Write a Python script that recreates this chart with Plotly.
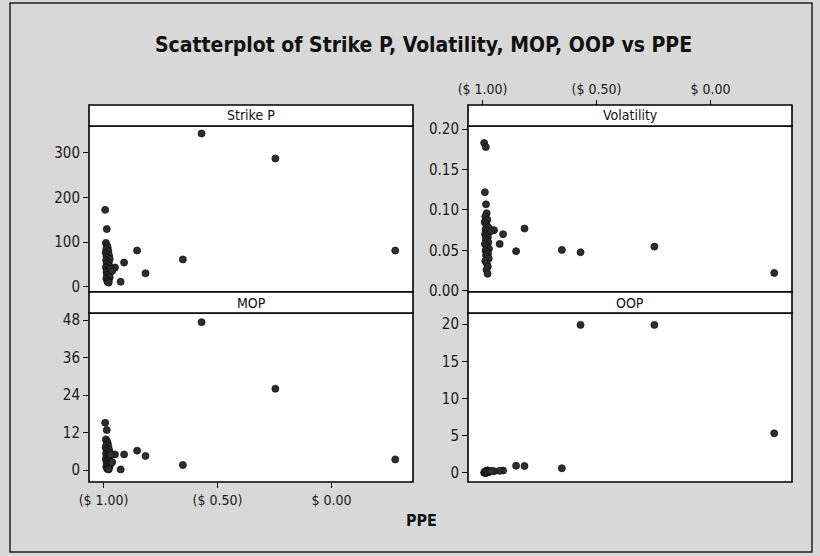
import plotly.graph_objects as go

# ---- data ----
ppe = [-0.570, -0.246, 0.280, -0.652, -0.853, -0.816, -0.910, -0.925, -0.950,
       -0.993, -0.986, -0.990, -0.985, -0.982, -0.988, -0.979, -0.991, -0.984, -0.976,
       -0.987, -0.980, -0.973, -0.989, -0.983, -0.977, -0.986, -0.981, -0.975, -0.990,
       -0.984, -0.978, -0.972, -0.987, -0.981, -0.976, -0.985, -0.979, -0.973, -0.988,
       -0.982, -0.977, -0.983, -0.978, -0.968, -0.962]
strike_p = [343, 287, 81, 61, 81, 30, 54, 11, 43,
            172, 129, 98, 92, 88, 84, 80, 76, 73, 70,
            67, 64, 62, 59, 56, 54, 51, 48, 46, 43,
            41, 38, 36, 33, 31, 28, 26, 23, 21, 18,
            16, 13, 11, 9, 40, 35]
volatility = [0.0476, 0.0546, 0.022, 0.0505, 0.049, 0.077, 0.070, 0.058, 0.075,
              0.183, 0.178, 0.122, 0.107, 0.096, 0.092, 0.088, 0.085, 0.082, 0.079,
              0.076, 0.074, 0.072, 0.070, 0.068, 0.066, 0.064, 0.062, 0.060, 0.058,
              0.056, 0.054, 0.052, 0.050, 0.048, 0.046, 0.044, 0.042, 0.040, 0.037,
              0.034, 0.030, 0.026, 0.021, 0.076, 0.074]
mop = [47.3, 26.0, 3.4, 1.6, 6.2, 4.5, 5.0, 0.2, 5.0,
       15.1, 12.8, 9.8, 9.2, 8.6, 8.0, 7.6, 7.2, 6.8, 6.5,
       6.1, 5.8, 5.5, 5.2, 4.9, 4.6, 4.3, 4.0, 3.8, 3.5,
       3.2, 3.0, 2.8, 2.5, 2.3, 2.0, 1.8, 1.5, 1.3, 1.0,
       0.8, 0.5, 0.3, 0.2, 5.0, 2.5]
oop = [19.9, 19.9, 5.3, 0.6, 0.94, 0.9, 0.3, 0.25, 0.2,
       0.0, 0.05, 0.1, 0.0, 0.15, 0.05, 0.2, 0.1, 0.0, 0.25,
       0.1, 0.05, 0.2, 0.0, 0.15, 0.3, 0.1, 0.2, 0.05, 0.0,
       0.25, 0.1, 0.15, 0.0, 0.2, 0.1, 0.05, 0.3, 0.1, 0.0,
       0.2, 0.1, 0.05, 0.15, 0.2, 0.25]

x_tickvals = [-1.0, -0.5, 0.0]
x_ticktext = ["($ 1.00)", "($ 0.50)", "$ 0.00"]
panel_titles = ["Strike P", "Volatility", "MOP", "OOP"]
title_text = "Scatterplot of Strike P, Volatility, MOP, OOP vs PPE"
x_title = "PPE"

W, H = 820, 556
def py(p):  # pixel y -> paper y
    return 1 - p / H
def px(p):
    return p / W

LX = [px(89), px(413)]
RX = [px(468), px(792)]
TOPY = [py(292), py(126)]
BOTY = [py(482), py(313)]
XR = [-1.064, 0.358]

FONT = "DejaVu Sans Condensed"
marker = dict(color="#2e2e2e", size=7, line=dict(color="#111", width=0.8))

fig = go.Figure()
series = [strike_p, volatility, mop, oop]
for i, ys in enumerate(series):
    sfx = "" if i == 0 else str(i + 1)
    fig.add_trace(go.Scatter(x=ppe, y=ys, mode="markers", marker=marker,
                             xaxis="x" + sfx, yaxis="y" + sfx, showlegend=False,
                             hoverinfo="skip"))

common_x = dict(range=XR, showgrid=False, zeroline=False, showline=False,
                tickvals=x_tickvals, ticktext=x_ticktext,
                tickfont=dict(family=FONT, size=14, color="#1a1a1a"))
common_y = dict(showgrid=False, zeroline=False, showline=False, ticks="outside", ticklen=5,
                tickcolor="black", tickwidth=1.2,
                tickfont=dict(family=FONT, size=15, color="#1a1a1a"))

fig.update_layout(
    width=W, height=H, margin=dict(l=0, r=0, t=0, b=0, autoexpand=False),
    paper_bgcolor="#d8d8d8", plot_bgcolor="white",
    xaxis=dict(domain=LX, anchor="y", showticklabels=False, ticks="", **common_x),
    yaxis=dict(domain=TOPY, anchor="x", range=[-11.9, 359.8], tickvals=[0, 100, 200, 300], **common_y),
    xaxis2=dict(domain=RX, anchor="free", position=py(105), side="top", ticks="outside", ticklen=5,
                tickcolor="black", tickwidth=1.2, **common_x),
    yaxis2=dict(domain=TOPY, anchor="x2", range=[-0.0016, 0.204], tickvals=[0, 0.05, 0.10, 0.15, 0.20],
                tickformat=".2f", **common_y),
    xaxis3=dict(domain=LX, anchor="y3", ticks="outside", ticklen=5, tickcolor="black", tickwidth=1.2,
                **common_x),
    yaxis3=dict(domain=BOTY, anchor="x3", range=[-3.84, 50.24], tickvals=[0, 12, 24, 36, 48], **common_y),
    xaxis4=dict(domain=RX, anchor="y4", showticklabels=False, ticks="", **common_x),
    yaxis4=dict(domain=BOTY, anchor="x4", range=[-1.25, 21.5], tickvals=[0, 5, 10, 15, 20], **common_y),
)

shapes = []
annotations = []
# plot borders
for xd, yd in [(LX, TOPY), (RX, TOPY), (LX, BOTY), (RX, BOTY)]:
    shapes.append(dict(type="rect", xref="paper", yref="paper", x0=xd[0], x1=xd[1], y0=yd[0], y1=yd[1],
                       line=dict(color="black", width=1.6), fillcolor="rgba(0,0,0,0)", layer="above"))
# strips
strips = [(LX, py(105), py(126)), (RX, py(105), py(126)),
          (LX, py(292), py(313)), (RX, py(292), py(313))]
for (xd, y1, y0), name in zip(strips, panel_titles):
    shapes.append(dict(type="rect", xref="paper", yref="paper", x0=xd[0], x1=xd[1], y0=y0, y1=y1,
                       fillcolor="white", line=dict(color="black", width=1.6), layer="above"))
    annotations.append(dict(xref="paper", yref="paper", x=(xd[0] + xd[1]) / 2, y=(y0 + y1) / 2,
                            text=name, showarrow=False, xanchor="center", yanchor="middle",
                            font=dict(family=FONT, size=14, color="#111")))
# outer frame
shapes.append(dict(type="rect", xref="paper", yref="paper", x0=px(10), x1=px(812), y0=py(552), y1=py(3),
                   line=dict(color="#222", width=1.5), fillcolor="rgba(0,0,0,0)"))
annotations.append(dict(xref="paper", yref="paper", x=px(423), y=py(45), text="<b>" + title_text + "</b>",
                        showarrow=False, xanchor="center", yanchor="middle",
                        font=dict(family=FONT, size=21, color="#111")))
annotations.append(dict(xref="paper", yref="paper", x=px(421), y=py(520), text="<b>" + x_title + "</b>",
                        showarrow=False, xanchor="center", yanchor="middle",
                        font=dict(family=FONT, size=16, color="#111")))
fig.update_layout(shapes=shapes, annotations=annotations)

fig.write_html("out.html", config={"displayModeBar": False},
               post_script="document.body.style.margin='0';document.body.style.overflow='hidden';")
